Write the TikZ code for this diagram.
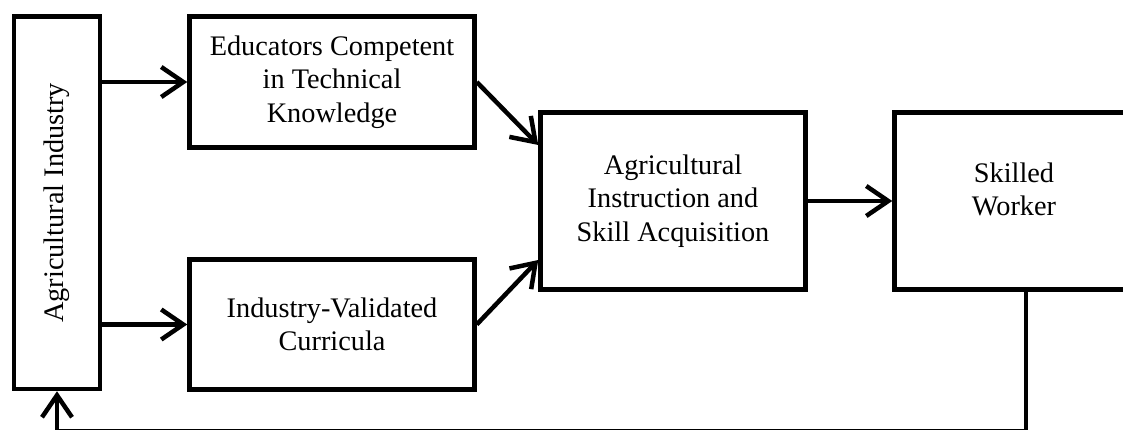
\documentclass[tikz,border=0pt]{standalone}
\usepackage{fontspec}
\setmainfont{Liberation Serif}
\usepackage{tikz}
\usetikzlibrary{positioning,arrows.meta}

\begin{document}
\begin{tikzpicture}[
  box/.style={draw, line width=4.5pt, align=center, inner sep=0pt,
              font=\fontsize{28.3pt}{33.5pt}\selectfont},
  arr/.style={-{Straight Barb[length=22pt, width=30pt]}, line width=4.5pt}]
\useasboundingbox (0,0) rectangle (1123pt,-430pt);
\node[box, minimum width=86pt, minimum height=372.5pt] (aind) at (57pt,-202.75pt)
  {\rotatebox{90}{Agricultural Industry}};
\node[box, right=85pt of aind.north east, anchor=north west, minimum width=285pt,
      minimum height=131pt] (edu) {Educators Competent\\in Technical\\Knowledge};
\node[box, below=107.5pt of edu, minimum width=285pt, minimum height=130pt] (ind)
  {Industry-Validated\\Curricula};
\node[box, minimum width=265pt, minimum height=177pt] (instr) at (673pt,-201pt)
  {Agricultural\\Instruction and\\Skill Acquisition};
\node[box, right=84.5pt of instr, minimum width=239pt, minimum height=177pt,
      text depth=24pt] (skilled) {Skilled\\Worker};
\draw[arr] (aind.east |- edu.west) -- (edu.west);
\draw[arr] (aind.east |- ind.west) -- (ind.west);
\draw[arr] (edu.east) -- ([yshift=56pt]instr.west);
\draw[arr] (ind.east) -- ([yshift=-59pt]instr.west);
\draw[arr] (instr.east) -- (skilled.west);
% loop back from the worker to the industry
\draw[arr] ([xshift=12pt]skilled.south) -- ++(0,-139.25pt) -| (aind.south);
\end{tikzpicture}
\end{document}
